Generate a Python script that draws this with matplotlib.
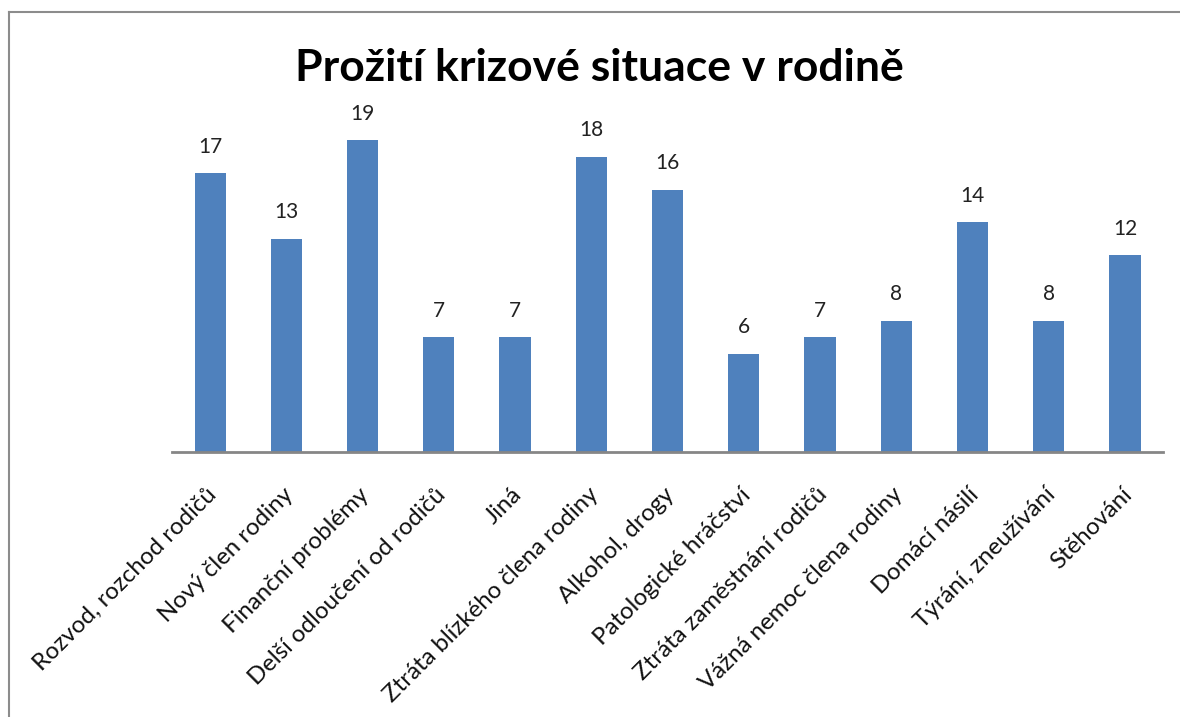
import matplotlib.pyplot as plt
import matplotlib.transforms as mtransforms
from matplotlib.lines import Line2D

# data
categories = ["Rozvod, rozchod rodičů", "Nový člen rodiny", "Finanční problémy",
              "Delší odloučení od rodičů", "Jiná", "Ztráta blízkého člena rodiny",
              "Alkohol, drogy", "Patologické hráčství", "Ztráta zaměstnání rodičů",
              "Vážná nemoc člena rodiny", "Domácí násilí", "Týrání, zneužívání",
              "Stěhování"]
values = [17, 13, 19, 7, 7, 18, 16, 6, 7, 8, 14, 8, 12]

plt.rcParams['font.family'] = ['Lato', 'DejaVu Sans']

fig = plt.figure(figsize=(11.8, 7.17), dpi=100)
ax = fig.add_axes([0.1458, 0.3696, 0.8398, 0.4575])

x = range(len(categories))
bars = ax.bar(x, values, width=0.41, color='#4F81BD')

for xi, v in zip(x, values):
    ax.annotate(str(v), (xi, v), xytext=(0, 12), textcoords='offset points',
                ha='center', va='bottom', fontsize=15, color='#222222')

ax.set_xlim(-0.5, len(categories) - 0.5)
ax.set_ylim(0, 20)
ax.set_yticks([])
ax.set_xticks(list(x))
ax.set_xticklabels(categories, rotation=45, ha='right', rotation_mode='anchor',
                   fontsize=17.3, color='#111111')
ax.tick_params(axis='x', length=0, pad=23)
shift = mtransforms.ScaledTranslation(-4 / 100, 0, fig.dpi_scale_trans)
for lbl in ax.get_xticklabels():
    lbl.set_transform(lbl.get_transform() + shift)
for s in ['top', 'right', 'left']:
    ax.spines[s].set_visible(False)
ax.spines['bottom'].set_color('#868686')
ax.spines['bottom'].set_linewidth(2)

fig.text(0.508, 0.905, "Prožití krizové situace v rodině", ha='center', va='center',
         fontsize=32, fontweight='bold', color='black')

# outer frame (only left and top visible inside the image)
fx = 8.5 / 1180
fy = 1 - 12 / 717
fig.lines.append(Line2D([fx, fx], [-0.01, fy], transform=fig.transFigure,
                        color='#8c8c8c', linewidth=1.5))
fig.lines.append(Line2D([fx, 1.01], [fy, fy], transform=fig.transFigure,
                        color='#8c8c8c', linewidth=1.5))

fig.savefig('out.png', dpi=100)
